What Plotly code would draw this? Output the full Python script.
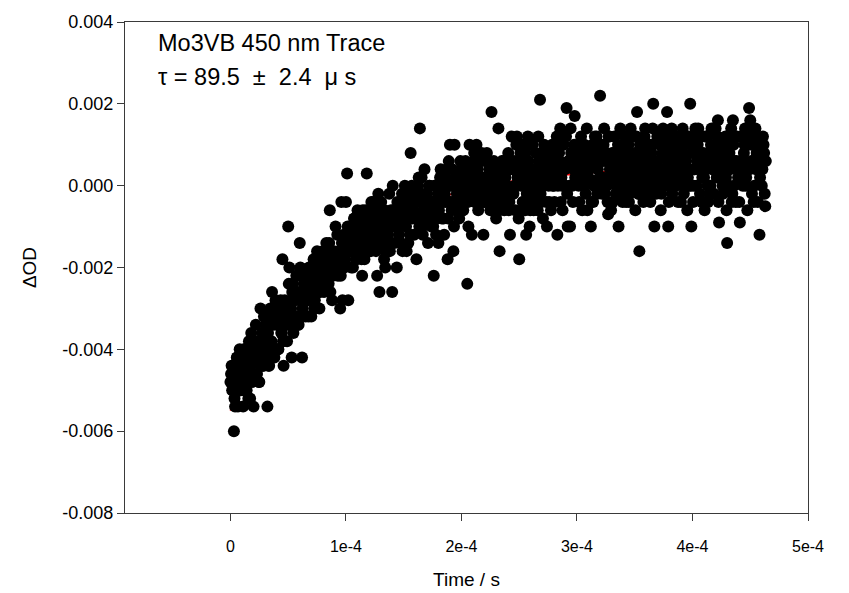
import plotly.graph_objects as go

# Sampling times in microseconds (two interleaved sweeps, 1 us spacing each)
time_us = list(range(0, 464))
time_us_half = [t + 0.5 for t in time_us]

# Delta OD values in units of 1e-4 (20 points per row)
dod_e4 = [
    -48, -44, -50, -60, -54, -46, -42, -48, -40, -50, -44, -54, -40, -46, -50, -42, -38, -52, -36, -40,
    -54, -38, -34, -46, -42, -48, -30, -40, -44, -32, -42, -36, -54, -44, -34, -40, -26, -32, -42, -28,
    -30, -40, -34, -32, -36, -18, -44, -28, -32, -38, -10, -20, -30, -42, -24, -28, -32, -22, -26, -34,
    -14, -26, -42, -28, -22, -32, -24, -28, -20, -26, -32, -20, -18, -28, -22, -16, -26, -30, -20, -24,
    -16, -26, -22, -14, -18, -24, -6, -16, -28, -18, -20, -10, -18, -22, -16, -30, -4, -28, -12, -18,
    -4, 3, -28, -14, -16, -12, -20, -8, -14, -18, -6, -16, -10, -8, -22, -12, -18, -6, 3, -16,
    -14, -8, -4, -12, -10, -6, -16, -22, -2, -26, -14, -10, -6, -18, -20, -12, -8, -10, -16, -6,
    -26, -6, -14, -10, -20, -8, -12, -4, -6, -16, -8, 0, -10, -4, -14, -2, 8, 0, -6, -12,
    -4, -18, -8, 2, 14, -2, -10, -6, 4, -8, -2, -14, 0, -6, -10, -4, -22, -8, -12, 0,
    -14, 0, 4, -8, -4, -12, 2, 0, -18, 6, 10, -4, 4, -16, 10, -6, -2, 2, -8, 6,
    4, -6, 0, 2, -4, -24, -10, 10, 0, -12, 2, 8, -2, 10, 4, 0, -4, 6, 2, -12,
    -4, 0, 8, -2, 4, -6, 18, -2, 6, 0, -8, 2, 14, -16, 0, 6, -2, -6, 2, 0,
    6, -6, -12, 6, 4, -2, 0, 4, 12, 2, -18, 8, 2, -4, 2, -6, -12, 0, 6, -10,
    10, -4, 4, 0, -2, 2, -6, 6, 21, -4, 8, 0, 2, 4, -10, 2, -4, 8, 4, 0,
    0, 4, 10, -12, 2, 6, -4, 0, 12, 4, 0, 19, -10, 6, -10, 8, 0, 4, 17, 6,
    4, 6, -4, 2, 10, 4, 0, 8, 4, -6, 2, 8, -10, 6, -4, 8, 0, 12, 4, 0,
    22, 8, 2, 10, -2, 6, 0, -7, 12, 2, 6, -4, 8, 4, 0, 6, -10, 2, -2, 8,
    2, 6, 10, 0, 4, -4, 8, 6, 2, 12, 0, 4, 18, -2, -16, 2, 4, 8, 0, 14,
    8, -2, 4, 6, 2, 10, 20, -10, 4, 0, 6, 12, 2, -2, 8, 4, 2, 10, 18, -10,
    2, 6, 14, 4, 10, 0, 8, 2, 12, 6, -4, 8, 10, 0, 4, 12, 2, 0, 20, -10,
    10, 0, 4, 12, 6, 14, 4, 8, -4, 6, 2, 12, 6, 0, 8, -2, 10, 4, 8, 6,
    14, 2, 16, -9, 4, 8, 0, 10, 6, 2, -14, 4, 8, 10, -4, 16, 0, 12, 6, 4,
    2, -9, 12, 4, 6, 10, 0, 4, 12, 19, 16, 6, 10, -4, 12, 4, 8, 6, -12, 8,
    0, 12, 8, -5,
]

# Second interleaved sweep, units of 1e-4
dod_half_e4 = [
    -46, -50, -44, -52, -48, -42, -54, -46, -50, -44, -46, -50, -40, -48, -42, -52, -40, -44, -48, -42,
    -46, -38, -42, -40, -48, -38, -44, -36, -44, -40, -34, -38, -36, -44, -30, -38, -42, -34, -32, -40,
    -34, -40, -30, -28, -36, -38, -30, -32, -32, -34, -24, -34, -30, -26, -36, -28, -32, -22, -34, -28,
    -20, -26, -30, -24, -22, -28, -26, -32, -22, -24, -24, -22, -30, -20, -22, -26, -18, -26, -24, -20,
    -18, -22, -16, -24, -20, -14, -26, -18, -22, -16, -18, -20, -12, -18, -16, -22, -14, -16, -20, -14,
    -16, -10, -14, -12, -20, -10, -16, -8, -18, -12, -8, -14, -10, -18, -6, -12, -16, -12, -10, -16,
    -10, -16, -8, -4, -12, -14, -6, -10, -8, -12, -4, -14, -10, -6, -16, -8, -12, -2, -14, -10,
    0, -8, -10, -6, -4, -10, -6, -14, -2, -4, -8, -6, -16, -4, -6, -12, -2, -8, -6, -2,
    -2, -8, 0, -10, -4, 2, -12, -4, -6, -2, -6, -8, 0, -6, -4, -10, 0, -4, -8, -2,
    -6, 2, -2, 0, -8, -2, -4, 4, -8, -4, 0, -6, 0, -10, 2, -4, -6, -2, 2, -4,
    0, -6, 2, 6, -2, -4, 4, 0, 2, -2, 6, -4, 0, 4, -6, 2, -2, 8, -4, 0,
    6, 0, -2, 2, 4, -2, 0, -4, 4, 2, -2, 0, -6, 4, 2, -4, 6, -2, 0, 4,
    8, -4, 4, 12, -2, 6, -6, 10, 2, -8, 6, 0, 10, -4, 4, 8, -2, 12, 2, -6,
    0, 10, -6, 4, 8, -4, 12, 2, -2, 6, -8, 10, 4, -4, 8, 0, 6, -6, 10, 4,
    -4, 6, 12, 0, 8, 14, 2, -6, 10, 4, 12, -2, 6, 0, 14, 8, -4, 10, 2, 6,
    8, 0, 4, 12, -6, 6, 10, -2, 14, 2, 4, 8, -4, 10, 0, 12, 6, -2, 8, 2,
    10, -2, 6, 14, 0, 8, -4, 12, 4, -6, 8, 2, 12, -2, 6, 10, 0, 14, 4, -4,
    2, 12, -4, 6, 10, -2, 14, 4, 0, 8, -6, 12, 6, -2, 10, 2, 8, -4, 12, 6,
    6, 2, 10, -4, 8, 14, 0, 6, -2, 12, 4, 10, -6, 2, 14, 8, 0, 12, 6, -4,
    2, 8, -2, 6, 12, 0, 10, -4, 8, 4, 2, 14, -2, 10, 6, -6, 12, 4, 0, 8,
    -4, 4, 14, 0, 10, 6, -2, 12, 2, 8, -6, 4, 12, -4, 8, 0, 14, 6, -2, 10,
    6, 12, -4, 8, 2, 10, -2, 6, 12, -6, 8, 0, 4, 14, -2, 10, 6, -4, 12, 2,
    -4, 6, 12, 0, 8, 14, 2, -6, 10, 4, 12, -2, 6, 0, 14, 8, -4, 10, 2, 6,
    4, 10, -2, 6,
]

# Exponential fit curve (red), read at a few times
fit_time_us = [0, 25, 50, 75, 100, 150, 200, 250, 300, 350, 400, 463]
fit_dod = [-0.0055, -0.00404, -0.00293, -0.00210, -0.00146, -0.00062,
           -0.00014, 0.00013, 0.00029, 0.00038, 0.00043, 0.00046]

x_tickvals = [0, 1e-4, 2e-4, 3e-4, 4e-4, 5e-4]
x_ticktext = ["0", "1e-4", "2e-4", "3e-4", "4e-4", "5e-4"]
y_tickvals = [-0.008, -0.006, -0.004, -0.002, 0.0, 0.002, 0.004]
y_ticktext = ["-0.008", "-0.006", "-0.004", "-0.002", "0.000", "0.002", "0.004"]

t_s = [t * 1e-6 for t in time_us] + [t * 1e-6 for t in time_us_half]
dod = [v * 1e-4 for v in dod_e4] + [v * 1e-4 for v in dod_half_e4]
fit_t_s = [t * 1e-6 for t in fit_time_us]

FONT = "Arial, Liberation Sans, sans-serif"
AXC = "#3a3a3a"

fig = go.Figure()
fig.add_trace(go.Scatter(x=fit_t_s, y=fit_dod, mode="lines",
                         line=dict(color="red", width=2, shape="spline"),
                         hoverinfo="skip", showlegend=False))
fig.add_trace(go.Scatter(x=t_s, y=dod, mode="markers",
                         marker=dict(color="black", size=12, line=dict(width=0)),
                         showlegend=False))

axis_common = dict(showgrid=False, zeroline=False, showline=True, linecolor=AXC,
                   linewidth=1.2, mirror=True, ticks="outside", ticklen=7,
                   tickcolor=AXC, tickwidth=1.2, automargin=False)

fig.update_xaxes(range=[-0.0000913, 0.0005], tickvals=x_tickvals, ticktext=x_ticktext,
                 tickfont=dict(family=FONT, size=16, color="black"),
                 ticklabelstandoff=12,
                 title=dict(text="Time / s", font=dict(family=FONT, size=19, color="black"),
                            standoff=18),
                 **axis_common)
fig.update_yaxes(range=[-0.008, 0.004], tickvals=y_tickvals, ticktext=y_ticktext,
                 tickfont=dict(family=FONT, size=18, color="black"),
                 title=dict(text="ΔOD", font=dict(family=FONT, size=19, color="black"),
                            standoff=20),
                 **axis_common)

NB = "\u00a0"
fig.add_annotation(text="Mo3VB 450 nm Trace", xref="paper", yref="paper",
                   x=0.046, y=0.957, xanchor="left", yanchor="middle", showarrow=False,
                   font=dict(family=FONT, size=23.5, color="black"))
fig.add_annotation(text="τ = 89.5" + NB + " ± " + NB + "2.4" + NB + " μ" + NB + "s",
                   xref="paper", yref="paper",
                   x=0.046, y=0.888, xanchor="left", yanchor="middle", showarrow=False,
                   font=dict(family=FONT, size=23.5, color="black"))

fig.update_layout(width=849, height=593, margin=dict(l=125, r=41, t=22, b=80),
                  plot_bgcolor="white", paper_bgcolor="white", showlegend=False)

fig.write_html("out.html")
